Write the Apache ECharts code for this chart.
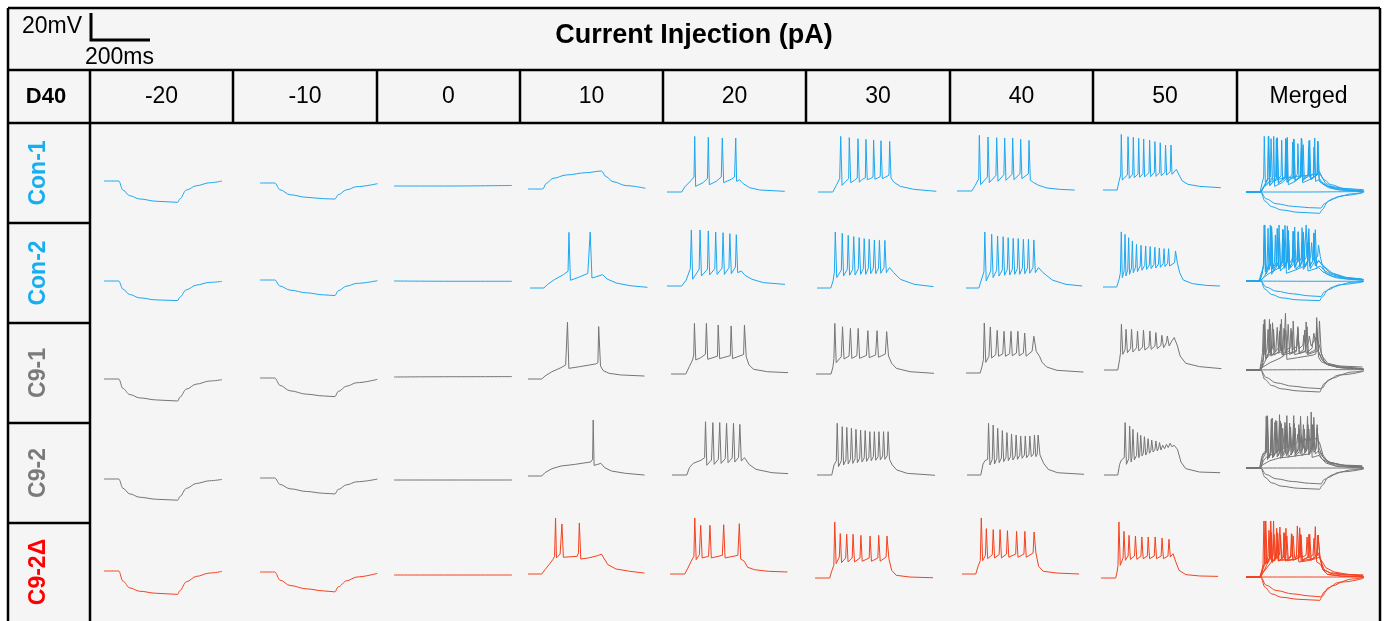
<!DOCTYPE html>
<html>
<head>
<meta charset="utf-8">
<script src="https://cdn.jsdelivr.net/npm/echarts@6/dist/echarts.min.js"></script>
<style>
html, body { margin: 0; padding: 0; background: #fff; }
#chart { width: 1388px; height: 621px; }
</style>
</head>
<body>
<div id="chart"></div>
<script>
// column / row labels
const currents = ['-20', '-10', '0', '10', '20', '30', '40', '50'];
const lineNames = ['Con-1', 'Con-2', 'C9-1', 'C9-2', 'C9-2\u0394'];
const traceColors = ['#1ea7f0', '#1ea7f0', '#757575', '#757575', '#f4421f'];
const labelColors = ['#17aef0', '#17aef0', '#7a7a7a', '#7a7a7a', '#ff0000'];

// recorded traces, points are [ms, mV], one list per current step (-20 .. 50 pA)
const con1 = [
  [[50,-65],[100,-65],[114,-71.7],[137,-75.9],[171,-78.3],[227,-80],[300,-80.8],[307,-78.3],[329,-71.7],[363,-68.5],[408,-66.3],[450,-65]],
  [[50,-65],[100,-65],[118,-70],[152,-73.7],[208,-75.6],[265,-76.6],[304,-76.9],[315,-73.7],[344,-70],[378,-67.7],[448,-65.5]],
  [[50,-65],[250,-65],[450,-64.6]],
  [[50,-65],[100,-65],[112,-60.8],[135,-57.1],[180,-54.6],[248,-52.9],[299,-51.7],[315,-55.9],[338,-59.6],[383,-62.5],[448,-64.5]],
  [[50,-65],[100,-65],[110,-61.3],[132,-56.4],[141.5,-53.9],[144,-23.8],[147,-60.8],[172,-58.1],[187,-55.1],[190,-24.5],[193.5,-59.6],[217,-57.1],[234,-53.9],[237.5,-25],[242,-58.1],[268,-55.6],[279,-53.9],[283,-25],[286,-57.1],[296,-55.9],[308,-58.8],[330,-61.8],[364,-63.5],[449,-64.5]],
  [[50,-65],[100,-65],[112,-60.1],[123.5,-55.1],[127,-23.8],[131.5,-60.1],[144,-57.1],[154,-55.1],[156,-24.7],[161,-58.1],[173,-56.4],[183,-54.6],[185.5,-25.5],[190,-57.6],[201,-55.6],[210.5,-54.4],[212.5,-26],[217,-55.9],[227,-55.1],[236.5,-53.9],[238.5,-26.5],[243,-55.6],[252,-54.6],[261,-53.6],[263.5,-27],[268,-55.1],[279,-53.9],[290.5,-52.6],[293,-27.5],[297.5,-54.6],[306.5,-57.6],[329,-60.8],[374,-63],[451,-64.5]],
  [[50,-65],[100,-65],[112,-60.8],[123.5,-55.9],[125.7,-23.8],[130,-60.3],[153,-54.6],[155,-25],[159.6,-58.8],[182,-53.4],[184.5,-25.5],[189,-57.8],[209,-52.9],[211.6,-25.7],[216,-57.1],[236.5,-52.6],[238.7,-25.7],[243,-56.6],[263.6,-52.2],[265.8,-26.7],[270,-55.9],[292,-52.2],[294,-27.5],[298.6,-57.1],[310,-58.8],[327,-60.8],[355,-62.8],[400,-63.8],[449,-64.3]],
  [[50,-65],[98,-65],[104,-58.8],[110,-53.9],[112,-23.8],[115.5,-57.6],[132.5,-53.9],[134.8,-25.5],[139,-56.4],[150.6,-53.4],[152.8,-26],[156,-55.9],[168.7,-53.1],[171,-26.7],[174,-55.6],[185.6,-52.9],[187.9,-27.2],[191,-55.3],[206,-52.2],[208,-28],[211.6,-55.1],[224,-51.9],[226,-29.2],[229.7,-54.9],[242,-52.2],[244,-30],[247.6,-54.4],[260,-51.9],[262,-31.7],[265.8,-53.9],[278,-51.4],[280.5,-31.7],[284,-53.4],[298.6,-49.7],[307.6,-53.9],[319,-58.3],[338,-60.8],[377.7,-62.3],[449,-63.3]]
];

const con2 = [
  [[50,-65],[100,-65],[114,-71],[137,-75],[171,-77.5],[227,-79],[300,-79.5],[307,-77],[329,-71.5],[363,-68],[408,-66],[450,-65.3]],
  [[50,-65],[100,-65],[118,-69.5],[152,-72.5],[208,-74.5],[265,-76],[304,-76.5],[315,-73],[344,-69.5],[378,-67.5],[448,-65.5]],
  [[50,-65],[250,-65.2],[450,-65.2]],
  [[50,-65],[97,-65],[109,-62.5],[132.5,-58.8],[163.6,-55.1],[179,-52.6],[182,-23.8],[187,-59.3],[218,-56.8],[246,-54.2],[251.5,-53.4],[254,-23.5],[260,-57.6],[272.5,-56.8],[296,-55.1],[311,-58.3],[342.5,-61.3],[389,-63.3],[448,-64.5]],
  [[50,-65],[100,-65],[115,-60.6],[129,-52.2],[132.5,-23.5],[137,-60],[159,-52.6],[162,-23.5],[166.7,-57.6],[187,-52.6],[190,-24.2],[194.7,-56.8],[212,-52.2],[215,-25],[219.6,-56.4],[236.7,-51.7],[240,-25.5],[244.5,-56.4],[260,-51.4],[263,-26.2],[268,-55.9],[282,-50.9],[285,-27],[289.6,-55.1],[302,-53.9],[314.5,-57.1],[338,-60],[377,-62.5],[450,-63.8]],
  [[50,-65],[96.7,-65],[104.5,-59.8],[109,-53.1],[112,-23.5],[117,-57.3],[132.5,-51.7],[135.6,-24.5],[140,-56.1],[152.7,-51.2],[155.8,-26],[160.5,-55.6],[171,-51.2],[174.5,-26.9],[179,-55.4],[190,-50.7],[193,-27.7],[197.8,-54.9],[207,-50.7],[210,-28.4],[215,-54.9],[224,-50.4],[227,-28.9],[232,-54.4],[241,-50.4],[244.5,-29.4],[249,-54.4],[258.5,-50.2],[261.6,-29.7],[266,-54.1],[277,-49.9],[280,-29.7],[285,-53.6],[296,-49.9],[310,-53.6],[333,-58.6],[380,-62.3],[445,-64]],
  [[50,-65],[93.6,-65],[101,-59.8],[110.7,-53.1],[113.8,-23.5],[118.5,-59.8],[134,-52.4],[137,-25.2],[141.8,-57.3],[154,-51.9],[157,-26.5],[162,-56.1],[173,-51.7],[176,-27],[180.7,-55.6],[190,-51.2],[193,-27.7],[198,-55.4],[207,-51.2],[210,-28.2],[215,-54.9],[224,-50.7],[227,-28.4],[232,-54.9],[241,-50.4],[244.5,-28.9],[249,-54.4],[258.5,-50.2],[261.6,-28.9],[266,-54.1],[277,-49.9],[280,-29.4],[285,-53.6],[296,-49.9],[311,-53.6],[342.5,-59.1],[389,-62.3],[443.7,-63.5]],
  [[50,-65],[96.7,-65],[104.5,-59.3],[109,-54.4],[112,-24.2],[115.4,-58.1],[121.6,-53.1],[124.7,-26],[127.8,-56.8],[134,-51.9],[137,-28.5],[140,-55.6],[146.5,-51.2],[149.6,-30.9],[152.7,-54.4],[160.5,-50.4],[163.6,-33.4],[166.7,-53.6],[176,-49.4],[179,-34.1],[182,-52.6],[191.6,-48.9],[194.7,-34.6],[197.8,-51.9],[207,-48.7],[210,-35.1],[213,-51.4],[222.7,-48.2],[225.8,-35.6],[229,-50.9],[238,-48],[241,-36.1],[244.5,-50.4],[253.8,-47.7],[257,-36.6],[260,-49.9],[269,-47.5],[272.5,-36.6],[275.6,-49.4],[292.7,-47],[295.8,-38.3],[302,-47],[310,-54.4],[322,-59.8],[353,-62.5],[400,-63.8],[446.8,-64.3]]
];

const c91 = [
  [[50,-65],[100,-65],[114,-72],[137,-76.5],[171,-79],[227,-80.5],[300,-81.3],[307,-78.5],[329,-72.5],[363,-68.8],[408,-66.5],[450,-65.5]],
  [[50,-65],[100,-65],[118,-70.5],[152,-74.5],[208,-77],[265,-78.3],[304,-78.8],[315,-75],[344,-71],[378,-68.5],[448,-66]],
  [[50,-65],[250,-64.8],[450,-64.7]],
  [[50,-65],[96.7,-65],[107.6,-62.8],[131,-59.6],[162,-56.6],[177.6,-54.6],[181,-53.5],[183.8,-23],[188.5,-57.1],[224,-55.9],[278.7,-53.9],[287,-53],[289.6,-26.2],[295.8,-55.4],[305,-58.8],[325,-60.8],[364,-62],[445,-62.8]],
  [[50,-65],[100,-65],[112,-59.6],[123,-54.6],[127,-50.9],[129.4,-27.5],[134,-54.6],[151,-52.9],[166.7,-50.4],[170,-27.5],[174.5,-54.1],[207.5,-51.8],[210,-28.7],[215,-53.6],[251,-51.4],[253.8,-29.4],[258.5,-53.6],[296,-50.6],[299,-28.7],[305,-52.2],[314.5,-58.3],[330,-61.5],[376.7,-63.3],[446.8,-64]],
  [[50,-65],[101,-65],[107.6,-59.6],[110.7,-53.4],[113.8,-27.5],[118.5,-56.6],[135.6,-52.2],[140,-30],[145,-53.9],[162,-51.7],[166.7,-31.2],[171.4,-53.4],[188.5,-51.4],[193,-31.2],[197.8,-53.4],[221,-51.2],[225.8,-32.9],[230.5,-52.9],[252,-50.9],[257,-32.9],[261.6,-52.6],[285,-50.2],[289.6,-33.6],[295.8,-51.7],[306.7,-57.1],[322.3,-60.8],[369,-63.3],[450,-64.5]],
  [[50,-65],[98,-65],[104.5,-60],[109,-55.1],[112,-28],[117,-57.1],[127.8,-52.6],[132.5,-30.9],[137,-53.9],[151,-51.4],[155.8,-33.4],[160.5,-52.6],[174.5,-50.9],[179,-34.1],[183.8,-52.6],[197.8,-50.7],[202.5,-34.1],[207,-52.2],[221,-50.2],[225.8,-34.1],[230.5,-52.2],[244.5,-50.2],[249,-35.4],[253.8,-52.6],[274,-48.9],[280,-37.8],[288,-48.9],[299,-52.6],[308,-57.1],[323.9,-60.6],[358,-63],[448,-64.3]],
  [[50,-65],[96.7,-65],[103,-57.1],[106,-52.2],[109,-31.2],[113.8,-53.4],[121.6,-49.7],[124.7,-34.9],[129.4,-52.2],[140,-49.2],[143.4,-34.9],[148,-51.7],[160.5,-48.5],[163.6,-36.1],[168,-50.9],[180.7,-48],[183.8,-35.4],[188.5,-50.2],[202.5,-47.7],[205.6,-36.1],[210,-49.7],[222.7,-47.2],[225.8,-37.3],[230.5,-49.2],[243,-46.7],[246,-39.3],[252,-48.5],[261.6,-44.7],[264.7,-39.8],[271,-47.2],[280,-43.5],[288,-41],[299,-47.2],[308,-54.6],[327,-60],[373.6,-62.5],[448,-64]]
];

const c92 = [
  [[50,-65],[100,-65],[114,-71.8],[137,-76],[171,-78.5],[227,-80],[300,-80.7],[307,-78],[329,-72],[363,-68.3],[408,-66.3],[450,-65.3]],
  [[50,-65],[100,-65],[118,-69.8],[152,-73],[208,-75],[265,-76.3],[304,-76.8],[315,-73.5],[344,-70],[378,-67.8],[448,-65.8]],
  [[50,-65],[250,-65],[450,-65]],
  [[50,-65],[96.7,-65],[107.6,-62.5],[131,-59.6],[162,-57.6],[208.7,-56.4],[263,-54.6],[269,-52.6],[271,-23.5],[274,-57.1],[286.5,-56.4],[297,-55.6],[309.8,-58.8],[333,-61.3],[380,-63],[445,-64.3]],
  [[50,-65],[100,-65],[109,-59.6],[121.6,-56.4],[148,-54.1],[160.5,-52.2],[163.6,-25.5],[168,-57.8],[183.8,-53.9],[188.5,-26.2],[193,-57.1],[207,-53.4],[211.8,-26.2],[216.5,-56.4],[230.5,-52.9],[235,-26.7],[240,-55.9],[254,-52.4],[258.5,-26.7],[263,-55.4],[275.6,-51.9],[280,-27.5],[285,-54.6],[296,-52.2],[311,-57.1],[334.7,-60.8],[389,-63.3],[443.7,-64]],
  [[50,-65],[100,-65],[107.6,-57.6],[115.4,-54.6],[118.5,-26.7],[123,-58.8],[132.5,-54.4],[135.6,-29.2],[140,-57.6],[148,-53.9],[151,-29.7],[155.8,-56.8],[163.6,-53.4],[166.7,-30.4],[171.4,-56.4],[179,-52.9],[182,-31.2],[187,-55.9],[194.7,-52.6],[197.8,-31.7],[202.5,-55.4],[210,-52.4],[213.4,-32.1],[218,-54.9],[225.8,-51.9],[229,-32.9],[233.6,-54.4],[241,-51.4],[244.5,-32.9],[249,-54.1],[257,-51.4],[260,-32.9],[264.7,-53.9],[272.5,-50.9],[275.6,-32.9],[280,-53.4],[288,-50.7],[291,-32.9],[295.8,-53.4],[305,-57.6],[320.7,-61.3],[356.5,-63.8],[450,-65.2]],
  [[50,-65],[96.7,-65],[104.5,-56.8],[110.7,-54.4],[120,-53.4],[123,-26.7],[127.8,-57.6],[135.6,-53.4],[138.7,-28],[143.4,-56.8],[151,-52.9],[154,-30.4],[159,-55.9],[166.7,-52.4],[169.8,-32.1],[174.5,-55.1],[182,-51.9],[185.4,-33.6],[190,-54.4],[197.8,-51.4],[201,-34.6],[205.6,-53.9],[213.4,-50.9],[216.5,-35.4],[221,-53.4],[229,-50.4],[232,-36.1],[236.7,-52.6],[244.5,-50.2],[247.6,-36.1],[252,-52.2],[260,-49.7],[263,-36.1],[267.8,-51.4],[275.6,-49.4],[278.7,-35.4],[283.4,-51.4],[288,-49.4],[291,-35.4],[297.4,-50.2],[310,-56.4],[325.4,-60.8],[356.5,-63.3],[446.8,-64.5]],
  [[50,-65],[96.7,-65],[103,-57.1],[109,-53.9],[118.5,-52.2],[121.6,-26.2],[126,-57.1],[134,-52.9],[137,-28.7],[141.8,-55.4],[145,-51.4],[148,-31.2],[152.7,-53.9],[160.5,-50.4],[163.6,-33.6],[168,-52.2],[171.4,-49.4],[174.5,-35.6],[179,-50.9],[183.8,-48.5],[187,-36.6],[191.6,-50.2],[196,-47.7],[199.4,-38.1],[204,-48.9],[208.7,-47],[211.8,-39.1],[216.5,-48],[222.7,-46],[225.8,-39.8],[230.5,-47.2],[235,-45.2],[238.3,-41],[243,-46.5],[249,-43],[255.4,-45.5],[261.6,-42.3],[267.8,-44.7],[274,-41.5],[280,-44],[288,-43],[299,-46],[311,-55.4],[327,-60.3],[373.6,-62.8],[443.7,-63.3]]
];

const c92d = [
  [[50,-65],[100,-65],[114,-72.5],[137,-77.5],[171,-80],[227,-81.5],[300,-82.3],[307,-79.5],[329,-73],[363,-69],[408,-66.5],[450,-65.3]],
  [[50,-65],[100,-65],[118,-71],[152,-75],[208,-77.5],[265,-79],[304,-79.7],[315,-76],[344,-71.5],[378,-68.7],[448,-66]],
  [[50,-65],[250,-65],[450,-65]],
  [[50,-65],[96.7,-65],[107.6,-61.8],[123,-57.6],[134,-54.4],[140,-51.9],[143.4,-23.5],[146.5,-53.1],[159,-50.2],[165,-28],[170,-52.6],[216.5,-51.9],[221,-49.4],[224,-27.2],[229,-53.9],[255.4,-53.1],[286.5,-51.4],[299,-50.2],[306.7,-53.1],[320.7,-58.1],[348.7,-61.3],[395,-63],[445,-64.3]],
  [[50,-65],[99.8,-65],[110.7,-60.6],[121.6,-55.6],[131,-51.9],[134,-23.5],[138.7,-54.4],[149.6,-50.7],[154,-28.9],[159,-53.1],[180.7,-51.9],[185.4,-28.9],[190,-53.1],[227.4,-51.2],[232,-28.5],[236.7,-53.1],[280,-51.2],[285,-27.7],[289.6,-53.9],[302,-55.6],[313,-60],[336,-61.8],[383,-63],[448,-63.5]],
  [[50,-65],[99.8,-65],[107.6,-59.3],[113.8,-55.6],[117,-23.5],[121.6,-54.4],[132.5,-49.4],[135.6,-32.1],[140,-53.6],[154,-50.2],[157.4,-32.6],[162,-53.1],[176,-50.2],[179,-32.6],[183.8,-53.1],[202.5,-50.2],[205.6,-33.4],[210,-52.6],[233.6,-50.2],[236.7,-33.9],[241.4,-52.6],[263,-50.2],[266,-33.4],[271,-52.6],[291,-49.4],[294,-33.9],[300.5,-50.7],[309.8,-59.3],[325.4,-63],[372,-64.3],[450,-64.8]],
  [[50,-65],[96.7,-65],[104.5,-59.3],[112,-55.1],[115.4,-23.5],[120,-55.1],[129.4,-51.2],[132.5,-31.4],[137,-53.6],[152.7,-50.7],[155.8,-32.1],[160.5,-53.1],[176,-50.7],[179,-32.1],[183.8,-53.1],[201,-50.2],[204,-32.9],[208.7,-52.6],[232,-50.2],[235,-33.4],[239.8,-52.6],[260,-50.2],[263,-33.4],[267.8,-52.6],[291,-49.4],[294.3,-33.9],[300.5,-49.4],[309.8,-59.3],[325.4,-63],[372,-64.3],[446.8,-65]],
  [[50,-65],[99.8,-65],[104.5,-60.6],[107.6,-55.6],[110.7,-23.5],[115.4,-55.6],[124.7,-50.2],[127.8,-30.4],[132.5,-51.9],[141.8,-48.7],[145,-33.4],[149.6,-51.2],[163.6,-48.7],[166.7,-33.9],[171.4,-51.2],[185.4,-48.7],[188.5,-34.6],[193,-50.7],[207,-48.7],[210,-34.6],[214.7,-50.7],[230.5,-48.7],[233.6,-34.6],[238.3,-50.7],[253.8,-48.7],[257,-35.4],[261.6,-50.7],[277,-48.7],[280.5,-36.3],[285,-49.4],[294.3,-47],[303.6,-53.1],[314.5,-59.3],[337.8,-62.5],[384.5,-63.5],[446.8,-63.8]]
];

const rows = [con1, con2, c91, c92, c92d];

// ---- layout (pixels) ----
const colEdges = [8, 90, 233, 377, 520, 663, 806, 950, 1093, 1237, 1380];
const rowEdges = [123, 223, 323, 423, 523, 640];
// left edge of each trace and y of its resting baseline, per row (8 steps + merged)
const traceLeft = [
  [104, 260, 394, 528, 667, 818, 957, 1103, 1246],
  [104, 260, 394, 530, 667, 817, 966, 1103, 1246],
  [104, 260, 394, 528, 671, 816, 966, 1104, 1246],
  [104, 260, 394, 528, 672, 817, 967, 1104, 1246],
  [104, 260, 394, 528, 670, 815, 962, 1101, 1246]
];
const traceBase = [
  [181, 183, 186, 189, 192, 192, 191, 190, 192],
  [281, 280, 281, 288, 286, 288, 288, 287, 281],
  [379, 378, 377, 379, 374, 374, 373, 370, 370],
  [479, 478, 480, 476, 475, 475, 475, 475, 468],
  [571, 572, 575, 574, 574, 578, 574, 578, 577]
];
const PX_PER_MS = 0.295;   // 200 ms = 59 px
const PX_PER_MV = 1.35;    // 20 mV = 27 px
const T_MIN = 50, T_MAX = 450, V_MIN = -90, V_MAX = -10, V_REST = -65;
const FONT = '"Liberation Sans", Arial, Helvetica, sans-serif';

const grids = [], xAxes = [], yAxes = [], series = [];

function hasSpikes(tr) {
  return tr.some(function (p) { return p[1] > -45; });
}

function addCell(left, base, traces, color) {
  const idx = grids.length;
  grids.push({
    left: left,
    top: base - (V_MAX - V_REST) * PX_PER_MV,
    width: (T_MAX - T_MIN) * PX_PER_MS,
    height: (V_MAX - V_MIN) * PX_PER_MV,
    outerBoundsMode: 'none',
    show: false
  });
  xAxes.push({ gridIndex: idx, type: 'value', min: T_MIN, max: T_MAX, show: false });
  yAxes.push({ gridIndex: idx, type: 'value', min: V_MIN, max: V_MAX, show: false });
  traces.forEach(function (tr) {
    const smoothIt = !hasSpikes(tr);
    series.push({
      type: 'line',
      xAxisIndex: idx,
      yAxisIndex: idx,
      data: tr,
      showSymbol: false,
      clip: false,
      silent: true,
      smooth: smoothIt ? 0.35 : false,
      smoothMonotone: smoothIt ? 'x' : undefined,
      lineStyle: { color: color, width: 1 }
    });
  });
}

rows.forEach(function (traces, r) {
  traces.forEach(function (tr, c) {
    addCell(traceLeft[r][c], traceBase[r][c], [tr], traceColors[r]);
  });
  // merged column: all steps overlaid
  addCell(traceLeft[r][8], traceBase[r][8], traces, traceColors[r]);
});

// ---- table drawing ----
const graphics = [];
function hline(x1, x2, y) {
  graphics.push({ type: 'line', shape: { x1: x1, y1: y, x2: x2, y2: y }, style: { stroke: '#000', lineWidth: 2.5 }, z: 10 });
}
function vline(x, y1, y2) {
  graphics.push({ type: 'line', shape: { x1: x, y1: y1, x2: x, y2: y2 }, style: { stroke: '#000', lineWidth: 2.5 }, z: 10 });
}
function label(text, x, y, size, bold, color, rot) {
  graphics.push({
    type: 'text', x: x, y: y, rotation: rot || 0, z: 11,
    style: {
      text: text, x: 0, y: 0, fill: color || '#000',
      fontSize: size, fontWeight: bold ? 'bold' : 'normal', fontFamily: FONT,
      align: 'center', verticalAlign: 'middle'
    }
  });
}

graphics.push({ type: 'rect', shape: { x: 8, y: 8, width: 1372, height: 640 }, style: { fill: '#f5f5f5' }, z: -10 });
hline(8, 1380, 8);
hline(8, 1380, 70);
hline(8, 1380, 123);
vline(8, 8, 640);
vline(1380, 8, 640);
vline(90, 70, 640);
for (let i = 2; i < colEdges.length - 1; i++) vline(colEdges[i], 70, 123);
for (let i = 1; i < rowEdges.length - 1; i++) hline(8, 90, rowEdges[i]);

// scale bar: 20 mV x 200 ms
graphics.push({ type: 'polyline', shape: { points: [[91, 13], [91, 40], [91 + 200 * PX_PER_MS, 40]] }, style: { stroke: '#000', lineWidth: 3, fill: null }, z: 10 });
graphics.push({ type: 'text', x: 22, y: 27, z: 11, style: { text: '20mV', fontSize: 23, fontFamily: FONT, fill: '#000', align: 'left', verticalAlign: 'middle' } });
graphics.push({ type: 'text', x: 85, y: 58, z: 11, style: { text: '200ms', fontSize: 23, fontFamily: FONT, fill: '#000', align: 'left', verticalAlign: 'middle' } });

label('Current Injection (pA)', 694, 36, 27, true);
label('D40', 46, 97, 22, true);
currents.concat(['Merged']).forEach(function (t, i) {
  label(t, (colEdges[i + 1] + colEdges[i + 2]) / 2, 97, 23, false);
});
lineNames.forEach(function (n, r) {
  const yc = r < 4 ? (rowEdges[r] + rowEdges[r + 1]) / 2 : 572;
  label(n, 39, yc, 23, true, labelColors[r], Math.PI / 2);
});

const chart = echarts.init(document.getElementById('chart'), null, { renderer: 'canvas' });
chart.setOption({
  animation: false,
  backgroundColor: '#ffffff',
  grid: grids,
  xAxis: xAxes,
  yAxis: yAxes,
  series: series,
  graphic: { elements: graphics }
});
</script>
</body>
</html>
